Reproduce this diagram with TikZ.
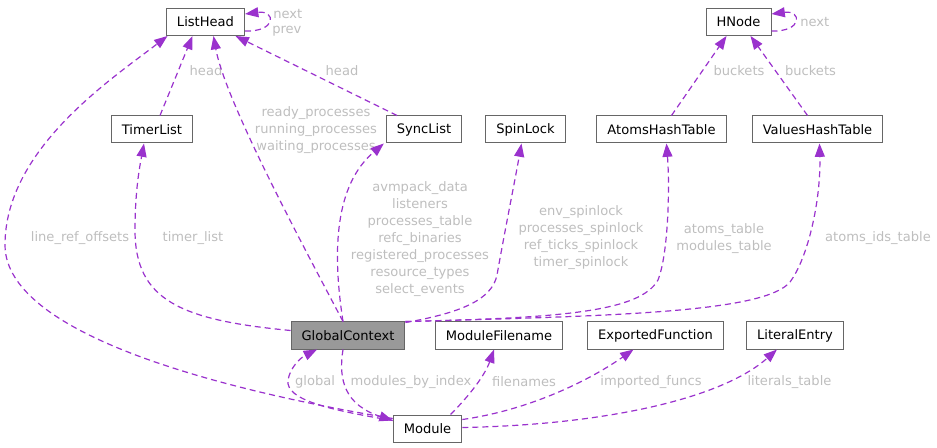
\documentclass[tikz,border=0pt]{standalone}
\usepackage{fontspec}
\setsansfont{DejaVu Sans}
\usepackage{tikz}
\usepackage{xcolor}
\usetikzlibrary{arrows.meta, calc}
\definecolor{cEdge}  {HTML}{9A32CD}
\definecolor{cLabel} {HTML}{BEBEBE}
\definecolor{cBorder}{HTML}{666666}
\definecolor{cFocus} {HTML}{999999}
\definecolor{cText}  {HTML}{000000}

\begin{document}
\begin{tikzpicture}[x=0.75pt, y=-0.75pt,
    cls/.style={draw=cBorder, fill=white, line width=0.75pt, inner xsep=7.9pt, inner ysep=0pt,
                minimum height=20.25pt, font=\sffamily\fontsize{9.8}{12}\selectfont, text=cText},
    focus/.style={cls, fill=cFocus},
    member/.style={draw=cEdge, line width=0.9pt, dash pattern=on 4.5pt off 3pt,
                   -{Triangle[length=10pt, width=7.5pt]}},
    lbl/.style={font=\sffamily\fontsize{9.8}{12.75}\selectfont, text=cLabel, align=center, inner sep=0pt}]
        \useasboundingbox (0,0) rectangle (937,448);
        % classes, top row
        \node[cls] (listhead) at (205.5,22) {ListHead};
        \node[cls] (hnode) at (738.5,22) {HNode};
        % classes, middle row
        \node[cls] (timerlist) at (152,129.5) {TimerList};
        \node[cls] (synclist) at (424,129.5) {SyncList};
        \node[cls] (spinlock) at (525.5,129.5) {SpinLock};
        \node[cls] (atomsht) at (661.5,129.5) {AtomsHashTable};
        \node[cls] (valuesht) at (817.5,129.5) {ValuesHashTable};
        % focus row
        \node[focus] (gctx) at (348,335.5) {GlobalContext};
        \node[cls] (modfile) at (499,335.5) {ModuleFilename};
        \node[cls] (expfunc) at (655.5,335.5) {ExportedFunction};
        \node[cls] (litentry) at (795,335.5) {LiteralEntry};
        \node[cls] (module) at (427.5,428.5) {Module};
        % self loops
        \draw[member] ($(listhead.east)+(0,9)$) .. controls (277,32) and (276,10) .. ($(listhead.east)+(0,-8)$);
        \node[lbl, anchor=west] (lbNext) at (273,14) {next};
        \node[lbl, anchor=west] (lbPrev) at (272,31) {prev};
        \draw[member] ($(hnode.east)+(0,9)$) .. controls (803,32) and (802,10) .. ($(hnode.east)+(0,-8)$);
        \node[lbl, anchor=west] (lbNextH) at (800,22) {next};
        % into ListHead
        \draw[member] ($(timerlist.north)+(8,0)$) -- ($(listhead.south)+(-13,0)$);
        \node[lbl] (lbHeadT) at (206,71) {head};
        \draw[member] ($(synclist.north)+(-27,0)$) -- ($(listhead.south)+(30,0)$);
        \node[lbl] (lbHeadS) at (342,71) {head};
        \draw[member] ($(gctx.north)+(-5,0)$) .. controls (300,240) and (225,100) .. ($(listhead.south)+(8,0)$);
        \node[lbl] (lbProcs) at (316,130) {ready\_processes\\running\_processes\\waiting\_processes};
        \draw[member] ($(module.west)+(0,-10)$) .. controls (250,395) and (5,340) .. (5,245)
              .. controls (5,150) and (110,80) .. ($(listhead.south)+(-38,0)$);
        \node[lbl] (lbLineRef) at (80,238) {line\_ref\_offsets};
        % out of GlobalContext
        \draw[member] ($(gctx.west)+(0,-5)$) .. controls (180,320) and (135,300) .. (135,230)
              .. controls (135,190) and (140,165) .. ($(timerlist.south)+(-8,0)$);
        \node[lbl] (lbTimer) at (193,238) {timer\_list};
        \draw[member] ($(gctx.north)+(-5,0)$) .. controls (332,250) and (335,185) .. ($(synclist.south west)+(-2,0)$);
        \node[lbl] (lbSync) at (420,239) {avmpack\_data\\listeners\\processes\_table\\refc\_binaries\\registered\_processes\\resource\_types\\select\_events};
        \draw[member] ($(gctx.north east)+(0,1)$) .. controls (460,313) and (492,300) .. (497,275)
              .. controls (505,230) and (515,180) .. ($(spinlock.south)+(-4,0)$);
        \node[lbl] (lbSpin) at (581,238) {env\_spinlock\\processes\_spinlock\\ref\_ticks\_spinlock\\timer\_spinlock};
        \draw[member] (gctx.north east) .. controls (560,318) and (640,312) .. (658,280)
              .. controls (668,255) and (670,190) .. ($(atomsht.south)+(5,0)$);
        \node[lbl] (lbAtoms) at (724,238.5) {atoms\_table\\modules\_table};
        \draw[member] (gctx.north east) .. controls (620,316) and (765,312) .. (790,282)
              .. controls (808,258) and (821,200) .. ($(valuesht.south)+(2,0)$);
        \node[lbl] (lbAtomIds) at (878,238) {atoms\_ids\_table};
        % into HNode
        \draw[member] ($(atomsht.north)+(10,0)$) -- ($(hnode.south)+(-12,0)$);
        \node[lbl] (lbBucketsA) at (739,71) {buckets};
        \draw[member] ($(valuesht.north)+(-10,0)$) -- ($(hnode.south)+(12,0)$);
        \node[lbl] (lbBucketsV) at (810.5,71) {buckets};
        % Module and GlobalContext
        \draw[member] ($(module.west)+(0,-8)$) .. controls (330,410) and (285,400) .. (288,380)
              .. controls (290,368) and (300,358) .. ($(gctx.south)+(-31,0)$);
        \node[lbl] (lbGlobal) at (315,382) {global};
        \draw[member] ($(gctx.south)+(-5,0)$) .. controls (338,380) and (345,405) .. ($(module.west)+(0,-8)$);
        \node[lbl] (lbModIdx) at (411,382) {modules\_by\_index};
        % out of Module
        \draw[member] ($(module.north)+(23,0)$) .. controls (470,395) and (485,375) .. ($(modfile.south)+(-5,0)$);
        \node[lbl] (lbFiles) at (524,382) {filenames};
        \draw[member] ($(module.east)+(0,-9)$) .. controls (530,410) and (590,380) .. ($(expfunc.south)+(-22,0)$);
        \node[lbl] (lbImports) at (651,382) {imported\_funcs};
        \draw[member] ($(module.east)+(0,-1)$) .. controls (600,425) and (720,400) .. ($(litentry.south)+(-18,0)$);
        \node[lbl] (lbLiterals) at (789.5,382) {literals\_table};
\end{tikzpicture}
\end{document}
